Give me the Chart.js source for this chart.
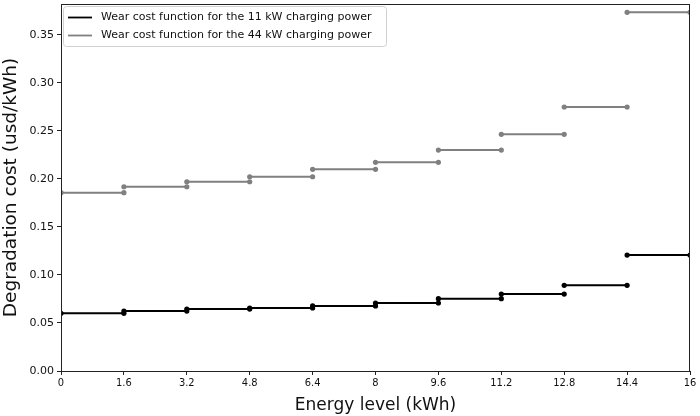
<!DOCTYPE html>
<html>
<head>
<meta charset="utf-8">
<script src="https://cdn.jsdelivr.net/npm/chart.js@4.4.0/dist/chart.umd.min.js"></script>
<style>
    html, body { margin: 0; padding: 0; background: #fff; }
    #grafico-desgaste { display: block; }
</style>
</head>
<body>
<div style="width:700px;height:416px;">
    <canvas id="grafico-desgaste" width="700" height="416"></canvas>
</div>
<script>
// limites dos degraus (kWh) - tambem sao os ticks do eixo x
const NIVEIS_ENERGIA = [0, 1.6, 3.2, 4.8, 6.4, 8, 9.6, 11.2, 12.8, 14.4, 16];
const TICKS_Y = [0, 0.05, 0.10, 0.15, 0.20, 0.25, 0.30, 0.35];

// custo de desgaste por degrau (usd/kWh)
const CUSTO_11KW = [0.0600, 0.0624, 0.0645, 0.0656, 0.0677, 0.0708, 0.0753, 0.0801, 0.0892, 0.1207];
const CUSTO_44KW = [0.1856, 0.1918, 0.1970, 0.2022, 0.2099, 0.2172, 0.2300, 0.2464, 0.2748, 0.3733];

const LABEL_11KW = 'Wear cost function for the 11 kW charging power';
const LABEL_44KW = 'Wear cost function for the 44 kW charging power';

// cada degrau vira 2 pontos + um null pra quebrar a linha
function montarDegraus(valores) {
    let pontos = [];
    for (let i = 0; i < valores.length; i++) {
        pontos.push({ x: NIVEIS_ENERGIA[i], y: valores[i] });
        pontos.push({ x: NIVEIS_ENERGIA[i + 1], y: valores[i] });
        pontos.push({ x: NIVEIS_ENERGIA[i + 1], y: null });
    }
    return pontos;
}

// moldura + legenda dentro da area (estilo matplotlib)
const molduraLegenda = {
    id: 'molduraLegenda',
    afterDraw(chart) {
        const ctx = chart.ctx;
        const a = chart.chartArea;
        ctx.save();
        ctx.strokeStyle = '#222';
        ctx.lineWidth = 1;
        ctx.strokeRect(a.left + 0.5, a.top + 0.5, a.right - a.left - 1, a.bottom - a.top);

        const x0 = a.left + 2, y0 = a.top + 2, w = 323, h = 40;
        ctx.fillStyle = 'rgba(255,255,255,0.85)';
        ctx.strokeStyle = '#d0d0d0';
        ctx.beginPath();
        ctx.roundRect(x0 + 0.5, y0 + 0.5, w, h, 3);
        ctx.fill();
        ctx.stroke();

        ctx.font = '11px "DejaVu Sans"';
        ctx.textBaseline = 'middle';
        chart.data.datasets.forEach(function(ds, i) {
            const yy = y0 + 11.5 + i * 18;
            ctx.strokeStyle = ds.borderColor;
            ctx.lineWidth = 1.8;
            ctx.beginPath();
            ctx.moveTo(x0 + 5, yy);
            ctx.lineTo(x0 + 29, yy);
            ctx.stroke();
            ctx.fillStyle = '#111';
            ctx.fillText(ds.label, x0 + 38, yy);
        });
        ctx.restore();
    }
};

new Chart(document.getElementById('grafico-desgaste'), {
    type: 'line',
    data: {
        datasets: [
            {
                label: LABEL_11KW,
                data: montarDegraus(CUSTO_11KW),
                borderColor: '#000000',
                backgroundColor: '#000000',
                borderWidth: 2,
                pointRadius: 2.6,
                pointBorderWidth: 0,
                spanGaps: false,
                tension: 0
            },
            {
                label: LABEL_44KW,
                data: montarDegraus(CUSTO_44KW),
                borderColor: '#808080',
                backgroundColor: '#808080',
                borderWidth: 2,
                pointRadius: 2.6,
                pointBorderWidth: 0,
                spanGaps: false,
                tension: 0
            }
        ]
    },
    options: {
        responsive: false,
        animation: false,
        devicePixelRatio: 1,
        layout: { padding: { top: 4, right: 10, left: 0, bottom: 0 } },
        plugins: {
            legend: { display: false },
            tooltip: { enabled: false }
        },
        scales: {
            x: {
                type: 'linear',
                min: 0,
                max: 16,
                afterBuildTicks: function(s) { s.ticks = NIVEIS_ENERGIA.map(v => ({ value: v })); },
                afterFit: function(s) { s.height = 45; },
                grid: { display: true, drawOnChartArea: false, drawTicks: true, tickLength: 4, color: '#222' },
                border: { display: false },
                ticks: {
                    color: '#111',
                    font: { family: 'DejaVu Sans Condensed', size: 11 },
                    padding: 2,
                    maxRotation: 0,
                    autoSkip: false,
                    callback: function(v) { return String(Math.round(v * 10) / 10); }
                },
                title: {
                    display: true,
                    text: 'Energy level (kWh)',
                    color: '#111',
                    font: { family: 'DejaVu Sans', size: 17 },
                    padding: { top: 0, bottom: 0 }
                }
            },
            y: {
                min: 0,
                max: 0.382,
                afterBuildTicks: function(s) { s.ticks = TICKS_Y.map(v => ({ value: v })); },
                afterFit: function(s) { s.width = 61; s.paddingTop = 0; s.paddingBottom = 0; },
                grid: { display: true, drawOnChartArea: false, drawTicks: true, tickLength: 4, color: '#222' },
                border: { display: false },
                ticks: {
                    color: '#111',
                    font: { family: 'DejaVu Sans', size: 11 },
                    padding: 3,
                    callback: function(v) { return v.toFixed(2); }
                },
                title: {
                    display: true,
                    text: 'Degradation cost (usd/kWh)',
                    color: '#111',
                    font: { family: 'DejaVu Sans', size: 18.5 },
                    padding: { top: 0, bottom: 1 }
                }
            }
        }
    },
    plugins: [molduraLegenda]
});
</script>
</body>
</html>
